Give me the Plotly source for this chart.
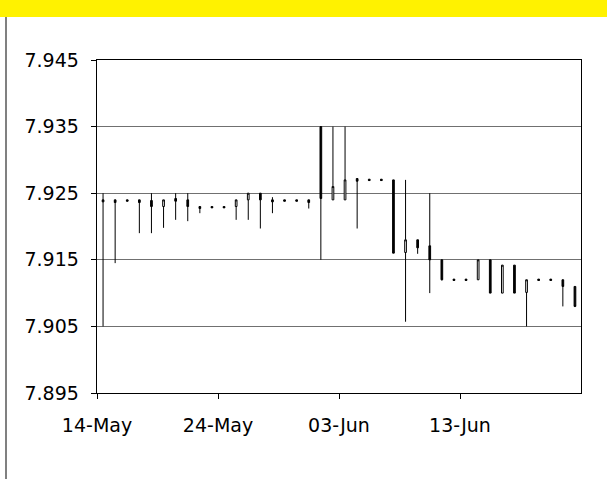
import pandas as pd
import plotly.graph_objects as go

dates = pd.date_range("2012-05-14", "2012-06-22", freq="D")

opens = [7.9240, 7.9240, 7.9240, 7.9240, 7.9239, 7.9230, 7.9242, 7.9240, 7.9230, 7.9230,
         7.9230, 7.9230, 7.9240, 7.9250, 7.9240, 7.9240, 7.9240, 7.9240, 7.9350, 7.9240,
         7.9240, 7.9272, 7.9271, 7.9271, 7.9270, 7.9161, 7.9180, 7.9171, 7.9150, 7.9121,
         7.9121, 7.9120, 7.9150, 7.9100, 7.9142, 7.9101, 7.9121, 7.9121, 7.9120, 7.9110]
highs = [7.9250, 7.9240, 7.9240, 7.9240, 7.9250, 7.9240, 7.9250, 7.9250, 7.9230, 7.9230,
         7.9230, 7.9240, 7.9250, 7.9250, 7.9244, 7.9240, 7.9240, 7.9240, 7.9350, 7.9350,
         7.9350, 7.9272, 7.9271, 7.9271, 7.9270, 7.9270, 7.9180, 7.9250, 7.9150, 7.9121,
         7.9121, 7.9150, 7.9150, 7.9142, 7.9142, 7.9120, 7.9121, 7.9121, 7.9120, 7.9110]
lows = [7.9050, 7.9145, 7.9238, 7.9190, 7.9190, 7.9198, 7.9210, 7.9208, 7.9220, 7.9228,
        7.9228, 7.9210, 7.9210, 7.9197, 7.9220, 7.9238, 7.9238, 7.9227, 7.9150, 7.9240,
        7.9240, 7.9197, 7.9269, 7.9269, 7.9160, 7.9057, 7.9159, 7.9100, 7.9119, 7.9119,
        7.9119, 7.9120, 7.9100, 7.9100, 7.9100, 7.9050, 7.9119, 7.9119, 7.9080, 7.9079]
closes = [7.9237, 7.9236, 7.9238, 7.9236, 7.9230, 7.9240, 7.9238, 7.9230, 7.9227, 7.9228,
          7.9228, 7.9240, 7.9250, 7.9240, 7.9237, 7.9238, 7.9238, 7.9236, 7.9242, 7.9260,
          7.9270, 7.9268, 7.9269, 7.9269, 7.9160, 7.9180, 7.9168, 7.9150, 7.9120, 7.9119,
          7.9119, 7.9150, 7.9100, 7.9142, 7.9100, 7.9120, 7.9119, 7.9119, 7.9110, 7.9080]

y_ticks = [7.895, 7.905, 7.915, 7.925, 7.935, 7.945]
y_tick_labels = ["7.895", "7.905", "7.915", "7.925", "7.935", "7.945"]
x_tick_dates = ["2012-05-14", "2012-05-24", "2012-06-03", "2012-06-13"]
x_tick_labels = ["14-May", "24-May", "03-Jun", "13-Jun"]

# Excel places each day's mark in the middle of its date slot
x_pos = dates + pd.Timedelta(hours=12)

FONT = "DejaVu Sans"
W, H = 607, 479
ML, MR, MT, MB = 97, 26, 60, 86
pw, ph = W - ML - MR, H - MT - MB

def px_x(p):  # screen pixel -> paper x
    return (p - ML) / pw

def px_y(p):  # screen pixel -> paper y
    return (H - MB - p) / ph

fig = go.Figure()
fig.add_trace(go.Candlestick(
    x=x_pos, open=opens, high=highs, low=lows, close=closes,
    increasing=dict(line=dict(color="black", width=1), fillcolor="white"),
    decreasing=dict(line=dict(color="black", width=1), fillcolor="black"),
    whiskerwidth=0,
    hoverinfo="skip",
))

# yellow banner at top and grey vertical rule on the left
fig.add_shape(type="rect", xref="paper", yref="paper",
              x0=px_x(0), x1=px_x(W), y0=px_y(17), y1=px_y(0),
              fillcolor="#FFF200", line=dict(width=0), layer="above")
fig.add_shape(type="line", xref="paper", yref="paper",
              x0=px_x(6), x1=px_x(6), y0=px_y(17), y1=px_y(H),
              line=dict(color="#808080", width=2))

fig.update_layout(
    width=W, height=H,
    margin=dict(l=ML, r=MR, t=MT, b=MB),
    paper_bgcolor="white", plot_bgcolor="white",
    showlegend=False,
    boxgap=0.8,
    font=dict(family=FONT, size=19, color="black"),
    xaxis=dict(
        type="date",
        range=["2012-05-14", "2012-06-23"],
        tickvals=x_tick_dates, ticktext=x_tick_labels,
        ticks="outside", ticklen=5, tickcolor="black", tickwidth=1,
        showline=True, linecolor="black", linewidth=1.3, mirror=True,
        showgrid=False, zeroline=False,
        rangeslider=dict(visible=False),
        ticklabelstandoff=10,
        tickfont=dict(family=FONT, size=19),
    ),
    yaxis=dict(
        range=[7.895, 7.945],
        tickvals=y_ticks, ticktext=y_tick_labels,
        ticks="outside", ticklen=5, tickcolor="black", tickwidth=1,
        showline=True, linecolor="black", linewidth=1.3, mirror=True,
        showgrid=True, gridcolor="#707070", gridwidth=1.2,
        zeroline=False,
        ticklabelstandoff=8,
        tickfont=dict(family=FONT, size=19),
    ),
)

fig.write_html(
    "out.html",
    config={"displayModeBar": False, "staticPlot": True},
    post_script="document.body.style.margin='0';document.body.style.overflow='hidden';",
)
